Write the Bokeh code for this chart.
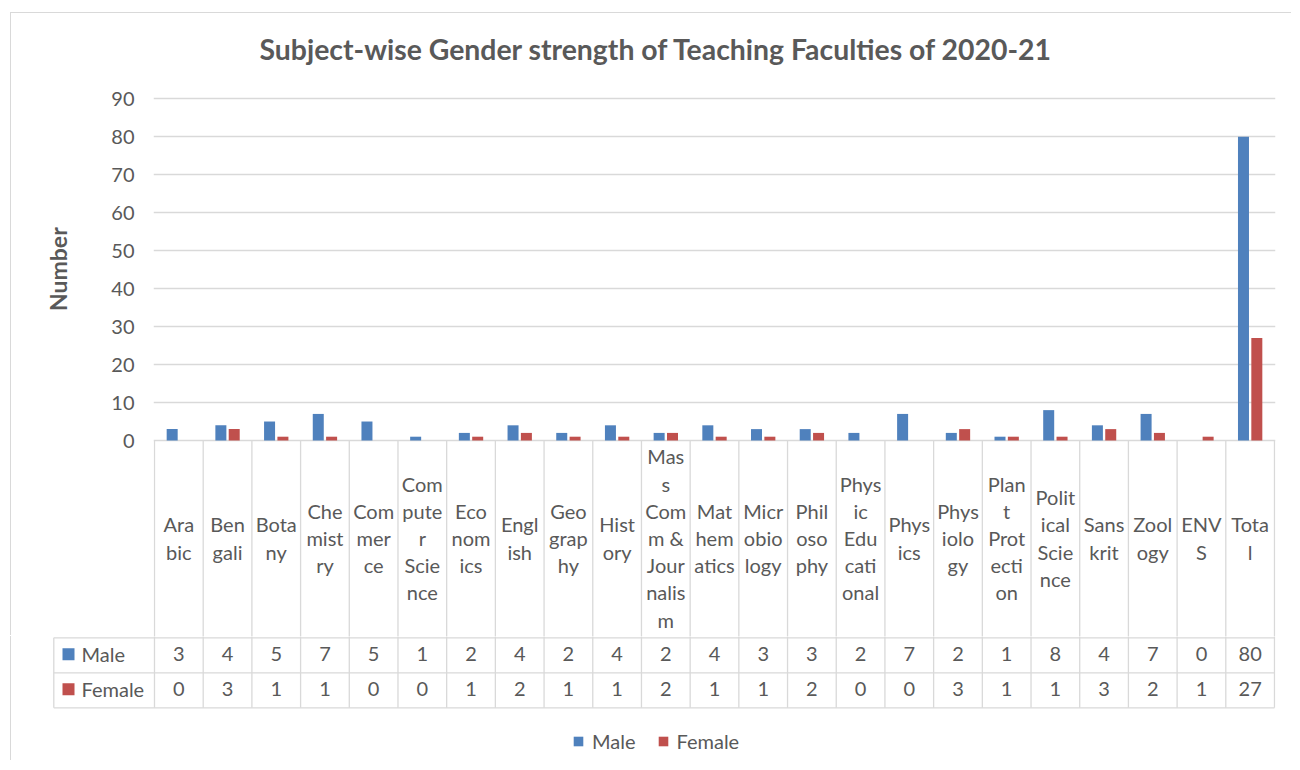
import numpy as np
from bokeh.plotting import figure
from bokeh.models import (Range1d, FixedTicker, Legend, LegendItem)
from bokeh.core.properties import value
from bokeh.embed import file_html
from bokeh.resources import INLINE

# ---------------- data ----------------
subjects = ["Arabic", "Bengali", "Botany", "Chemistry", "Commerce", "Computer Science",
            "Economics", "English", "Geography", "History", "Mass Comm & Journalism",
            "Mathematics", "Microbiology", "Philosophy", "Physic Educational", "Physics",
            "Physiology", "Plant Protection", "Political Science", "Sanskrit", "Zoology",
            "ENVS", "Total"]
# category labels as wrapped in the original table
wrapped = ["Ara\nbic", "Ben\ngali", "Bota\nny", "Che\nmist\nry", "Com\nmer\nce",
           "Com\npute\nr\nScie\nnce", "Eco\nnom\nics", "Engl\nish", "Geo\ngrap\nhy",
           "Hist\nory", "Mas\ns\nCom\nm &\nJour\nnalis\nm", "Mat\nhem\natics",
           "Micr\nobio\nlogy", "Phil\noso\nphy", "Phys\nic\nEdu\ncati\nonal", "Phys\nics",
           "Phys\niolo\ngy", "Plan\nt\nProt\necti\non", "Polit\nical\nScie\nnce",
           "Sans\nkrit", "Zool\nogy", "ENV\nS", "Tota\nl"]
male = [3, 4, 5, 7, 5, 1, 2, 4, 2, 4, 2, 4, 3, 3, 2, 7, 2, 1, 8, 4, 7, 0, 80]
female = [0, 3, 1, 1, 0, 0, 1, 2, 1, 1, 2, 1, 1, 2, 0, 0, 3, 1, 1, 3, 2, 1, 27]
series = ["Male", "Female"]
y_ticks = [0, 10, 20, 30, 40, 50, 60, 70, 80, 90]
title_text = "Subject-wise Gender strength of Teaching Faculties of 2020-21"
y_label = "Number"

# ---------------- style / layout constants ----------------
FONT = "Lato"
TXT = "#595959"
GRID = "#d9d9d9"
COLORS = ["#4F81BD", "#C0504D"]

N = len(subjects)
UNIT = 1120 / N            # px per category
PAD = 1 / UNIT             # 1px of slack at each side of the frame
PX = 341.7 / 90            # px per value unit
ORG_X, ORG_Y = 11, 13      # page position of both figures' left / top
ZERO_Y = 440               # page y of value 0
CAT0_X = 154               # page x of the first category boundary
P1_BOTTOM = 636            # page y where the chart figure ends and the table starts
TOTAL_W = 1281

def val_y(page_y):
    return (ZERO_Y - page_y) / PX

def cat_x(page_x):
    return (page_x - CAT0_X) / UNIT

# ---------------- chart (bars + category header) ----------------
p1_fh = P1_BOTTOM - ORG_Y
p1_fw = 1120 + 2
p1_left = CAT0_X - 1 - ORG_X
p1 = figure(x_range=Range1d(-PAD, N + PAD),
            y_range=Range1d(val_y(P1_BOTTOM), val_y(ORG_Y)),
            width=TOTAL_W, height=p1_fh, frame_width=p1_fw, frame_height=p1_fh,
            min_border_left=p1_left, min_border_right=TOTAL_W - p1_left - p1_fw,
            min_border_top=0, min_border_bottom=0,
            x_axis_location=None, output_backend="svg", toolbar_location=None,
            margin=(ORG_Y, 0, 0, ORG_X),
            styles={"box-shadow": "-1px -1px 0 0 #d9d9d9"})
p1.outline_line_color = None
p1.xgrid.visible = False
p1.ygrid.grid_line_color = GRID
p1.ygrid.grid_line_width = 1.3
ax = p1.yaxis[0]
ax.ticker = FixedTicker(ticks=y_ticks)
ax.bounds = (0, 90)
ax.axis_line_color = None
ax.major_tick_line_color = None
ax.minor_tick_line_color = None
ax.major_tick_out = 0
ax.major_tick_in = 0
ax.major_label_text_font = FONT
ax.major_label_text_font_size = "20px"
ax.major_label_text_color = TXT
ax.major_label_standoff = 19
# the axis title sits beside the value scale (not the whole frame): lead it with
# non-breaking spaces so that its visible part is centred on the 0-90 span
ax.axis_label = "\u00a0" * 20 + y_label
ax.axis_label_text_font = FONT
ax.axis_label_text_font_style = "bold"
ax.axis_label_text_font_size = "23px"
ax.axis_label_text_color = TXT
ax.axis_label_standoff = 36

# title
p1.text(x=[cat_x(656)], y=[val_y(48.5)], text=[title_text], text_align="center",
        text_baseline="middle", text_font=value(FONT), text_font_size="28.4px",
        text_font_style="bold", text_color=TXT)

centers = np.arange(N) + 0.5
BW = 0.226
OFF = 0.137
p1.vbar(x=centers - OFF, top=male, width=BW, fill_color=COLORS[0], line_color=None)
p1.vbar(x=centers + OFF, top=female, width=BW, fill_color=COLORS[1], line_color=None)

# category boundaries of the table header
edges = np.arange(N + 1)
y_bot = val_y(P1_BOTTOM + 2)
p1.segment(x0=edges, x1=edges, y0=[0] * (N + 1), y1=[y_bot] * (N + 1),
           line_color=GRID, line_width=1.3)
p1.text(x=centers, y=[val_y(537.5)] * N, text=wrapped, text_align="center",
        text_baseline="middle", text_font=value(FONT), text_font_size="20px",
        text_color=TXT, text_line_height=1.133)

# ---------------- data table rows ----------------
TH = 760 - P1_BOTTOM
p2_frame_left = 52
p2_left = p2_frame_left - ORG_X
p2_fw = 1274 + 1 - p2_frame_left
x_left = cat_x(p2_frame_left)
p2 = figure(x_range=Range1d(x_left, N + PAD), y_range=Range1d(TH, 0),
            width=TOTAL_W, height=TH, frame_width=p2_fw, frame_height=TH,
            min_border_left=p2_left, min_border_right=TOTAL_W - p2_left - p2_fw,
            min_border_top=0, min_border_bottom=0,
            x_axis_location=None, y_axis_location=None,
            output_backend="svg", toolbar_location=None,
            margin=(0, 0, 0, ORG_X),
            styles={"box-shadow": "-1px 0 0 0 #d9d9d9"})
p2.outline_line_color = None
p2.grid.visible = False

row_top, row_mid, row_bot = 637.3 - P1_BOTTOM, 672.3 - P1_BOTTOM, 707.3 - P1_BOTTOM
tbl_left = cat_x(53.3)
p2.segment(x0=edges, x1=edges, y0=[-2] * (N + 1), y1=[row_bot] * (N + 1),
           line_color=GRID, line_width=1.3)
p2.segment(x0=[tbl_left], x1=[tbl_left], y0=[row_top], y1=[row_bot],
           line_color=GRID, line_width=1.3)
p2.segment(x0=[tbl_left] * 3, x1=[N] * 3, y0=[row_top, row_mid, row_bot],
           y1=[row_top, row_mid, row_bot], line_color=GRID, line_width=1.3)

r1y = (row_top + row_mid) / 2 - 1
r2y = (row_mid + row_bot) / 2 - 1
p2.text(x=centers, y=[r1y] * N, text=[str(v) for v in male], text_align="center",
        text_baseline="middle", text_font=value(FONT), text_font_size="20px",
        text_color=TXT)
p2.text(x=centers, y=[r2y] * N, text=[str(v) for v in female], text_align="center",
        text_baseline="middle", text_font=value(FONT), text_font_size="20px",
        text_color=TXT)

key_x = cat_x(68)
lab_x = cat_x(81)
rm = p2.rect(x=[key_x], y=[r1y], width=12, height=12, width_units="screen",
             height_units="screen", fill_color=COLORS[0], line_color=None)
rf = p2.rect(x=[key_x], y=[r2y], width=12, height=12, width_units="screen",
             height_units="screen", fill_color=COLORS[1], line_color=None)
p2.text(x=[lab_x, lab_x], y=[r1y, r2y], text=series, text_align="left",
        text_baseline="middle", text_font=value(FONT), text_font_size="20px",
        text_color=TXT)

legend = Legend(items=[LegendItem(label=series[0], renderers=[rm]),
                       LegendItem(label=series[1], renderers=[rf])],
                orientation="horizontal", location=(572 - p2_frame_left, 7),
                glyph_width=12, glyph_height=12, label_standoff=8, spacing=21,
                padding=0, margin=0, border_line_color=None,
                background_fill_alpha=0,
                label_text_font=FONT, label_text_font_size="20px",
                label_text_color=TXT)
p2.add_layout(legend)

open("out.html", "w").write(file_html([p1, p2], INLINE))
